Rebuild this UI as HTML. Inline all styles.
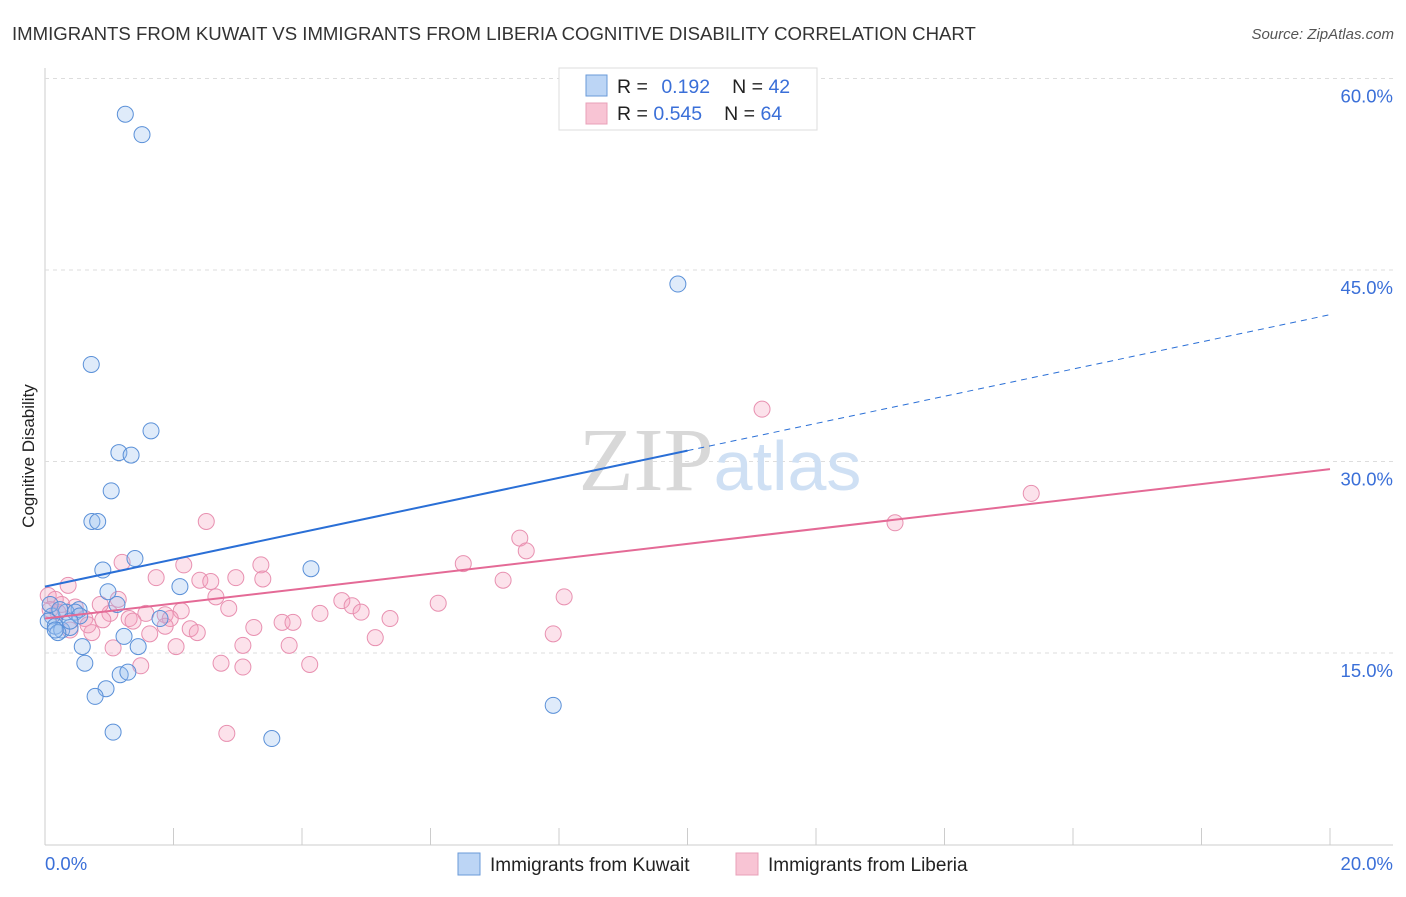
<!DOCTYPE html>
<html><head><meta charset="utf-8"><style>
body{margin:0;background:#fff;font-family:"Liberation Sans",sans-serif;}
svg text{font-family:"Liberation Sans",sans-serif;}
</style></head><body>
<svg id="chart" width="1406" height="892">
<text x="12" y="40" font-size="18.6" fill="#333">IMMIGRANTS FROM KUWAIT VS IMMIGRANTS FROM LIBERIA COGNITIVE DISABILITY CORRELATION CHART</text>
<text x="1394" y="39" font-size="15" fill="#555" font-style="italic" text-anchor="end">Source: ZipAtlas.com</text>
<text x="0" y="0" transform="translate(34,456) rotate(-90)" font-size="17" fill="#222" text-anchor="middle">Cognitive Disability</text>
<g id="grid"></g>
<text x="720" y="490" font-size="90" fill="#ddd" text-anchor="middle" font-family="Liberation Serif"><tspan fill="#d8d8d8" font-family="Liberation Serif">ZIP</tspan><tspan fill="#cfe0f4" font-size="70" font-family="Liberation Sans">atlas</tspan></text>
<g id="marks"></g>
<g id="lines"></g>
<g>
<rect x="559" y="68" width="258" height="62" fill="#fff" stroke="#ddd"/>
<rect x="586" y="75" width="21" height="21" fill="#bcd5f5" stroke="#6a9ad8"/>
<rect x="586" y="103" width="21" height="21" fill="#f8c4d4" stroke="#e8a0b8"/>
<text x="617" y="93" font-size="19.5" fill="#222">R = <tspan fill="#3a6fd8" dx="8">0.192</tspan><tspan dx="22" fill="#222">N = </tspan><tspan fill="#3a6fd8">42</tspan></text>
<text x="617" y="120" font-size="19.5" fill="#222">R = <tspan fill="#3a6fd8">0.545</tspan><tspan dx="22" fill="#222">N = </tspan><tspan fill="#3a6fd8">64</tspan></text>
</g>
<g>
<rect x="458" y="853" width="22" height="22" fill="#bcd5f5" stroke="#6a9ad8"/>
<text x="490" y="871" font-size="19" fill="#222">Immigrants from Kuwait</text>
<rect x="736" y="853" width="22" height="22" fill="#f8c4d4" stroke="#e8a0b8"/>
<text x="768" y="871" font-size="19" fill="#222">Immigrants from Liberia</text>
</g>
</svg>
<script>
const xTicks=[0,20];
const xTickLabels=["0.0%","20.0%"];
const yTicks=[15,30,45,60];
const yTickLabels=["15.0%","30.0%","45.0%","60.0%"];
const kuwaitX=[1.25,1.51,9.85,0.72,1.65,1.15,1.34,1.03,0.73,0.82,1.40,0.90,2.10,4.14,0.98,1.12,0.53,0.33,1.79,0.11,0.05,0.16,0.26,0.39,0.20,1.23,1.45,0.58,0.62,1.17,1.29,0.95,0.78,7.91,1.06,3.53,0.47,0.08,0.23,0.54,0.39,0.16];
const kuwaitY=[57.2,55.6,43.9,37.6,32.4,30.7,30.5,27.7,25.3,25.3,22.4,21.5,20.2,21.6,19.8,18.8,18.4,18.2,17.7,17.9,17.5,17.1,16.8,17.0,16.6,16.3,15.5,15.5,14.2,13.3,13.5,12.2,11.6,10.9,8.8,8.3,18.2,18.8,18.4,17.9,17.5,16.8];
const liberiaX=[11.16,15.35,13.23,2.51,7.39,7.49,6.51,1.20,3.36,2.16,1.73,2.97,3.39,2.41,2.58,7.13,0.36,8.08,2.66,4.62,4.78,6.12,1.14,2.86,2.12,4.28,4.92,1.01,1.57,1.87,1.95,1.31,5.37,0.62,0.90,1.37,1.87,3.69,3.86,3.25,2.26,2.37,1.63,0.73,7.91,5.14,3.08,3.80,2.04,1.06,2.74,4.12,1.49,3.08,2.83,0.05,0.16,0.26,0.20,0.47,0.86,0.08,0.67,0.39];
const liberiaY=[34.1,27.5,25.2,25.3,24.0,23.0,22.0,22.1,21.9,21.9,20.9,20.9,20.8,20.7,20.6,20.7,20.3,19.4,19.4,19.1,18.7,18.9,19.2,18.5,18.3,18.1,18.2,18.1,18.1,18.0,17.7,17.7,17.7,17.7,17.6,17.5,17.1,17.4,17.4,17.0,16.9,16.6,16.5,16.6,16.5,16.2,15.6,15.6,15.5,15.4,14.2,14.1,14.0,13.9,8.7,19.5,19.2,18.8,18.2,18.6,18.8,18.4,17.2,16.8];
const kuwaitTrend=[20.2,41.5];
const liberiaTrend=[17.7,29.4];
const NS="http://www.w3.org/2000/svg";
const X0=45,X1=1330,Y0=844.5,YS=191.5/15;
function sx(v){return X0+(v/20)*(X1-X0);}
function sy(v){return Y0-v*YS;}
function mk(t,a,p){const e=document.createElementNS(NS,t);for(const k in a)e.setAttribute(k,a[k]);p.appendChild(e);return e;}
const grid=document.getElementById('grid'),marks=document.getElementById('marks'),lines=document.getElementById('lines'),svg=document.getElementById('chart');
let ax=mk('line',{x1:45,y1:68,x2:45,y2:845,stroke:'#ccc'},grid);


let bx=mk('line',{x1:45,y1:845,x2:1393,y2:845,stroke:'#ccc'},grid);


for(let i=1;i<=10;i++){const x=sx(i*2);const t=mk('line',{x1:x,y1:828,x2:x,y2:845,stroke:'#ccc'},grid);

}
yTicks.forEach((v,i)=>{const y=sy(v);const g=mk('line',{x1:45,y1:y,x2:1393,y2:y,stroke:'#ddd','stroke-dasharray':'4,4'},grid);


const t=mk('text',{x:1393,y:y+24,'font-size':18.5,fill:'#3a6fd8','text-anchor':'end'},svg);t.textContent=yTickLabels[i];

});
xTicks.forEach((v,i)=>{const t=mk('text',{x:i==0?45:1393,y:870,'font-size':18.5,fill:'#3a6fd8','text-anchor':i==0?'start':'end'},svg);t.textContent=xTickLabels[i];

});
liberiaX.forEach((v,i)=>{const c=mk('circle',{cx:sx(v),cy:sy(liberiaY[i]),r:8,fill:'rgba(244,160,188,0.3)',stroke:'#e890b0','stroke-width':1},marks);

});
kuwaitX.forEach((v,i)=>{const c=mk('circle',{cx:sx(v),cy:sy(kuwaitY[i]),r:8,fill:'rgba(150,190,240,0.3)',stroke:'#5a90d8','stroke-width':1},marks);

});
const kAt=x=>kuwaitTrend[0]+(kuwaitTrend[1]-kuwaitTrend[0])*x/20;
let l1=mk('line',{x1:sx(0),y1:sy(kAt(0)),x2:sx(10),y2:sy(kAt(10)),stroke:'#2a6fd6','stroke-width':2},lines);


let l2=mk('line',{x1:sx(10),y1:sy(kAt(10)),x2:sx(20),y2:sy(kAt(20)),stroke:'#2a6fd6','stroke-width':1,'stroke-dasharray':'6,5'},lines);


let l3=mk('line',{x1:sx(0),y1:sy(liberiaTrend[0]),x2:sx(20),y2:sy(liberiaTrend[1]),stroke:'#e46a96','stroke-width':2},lines);


</script>
</body></html>
